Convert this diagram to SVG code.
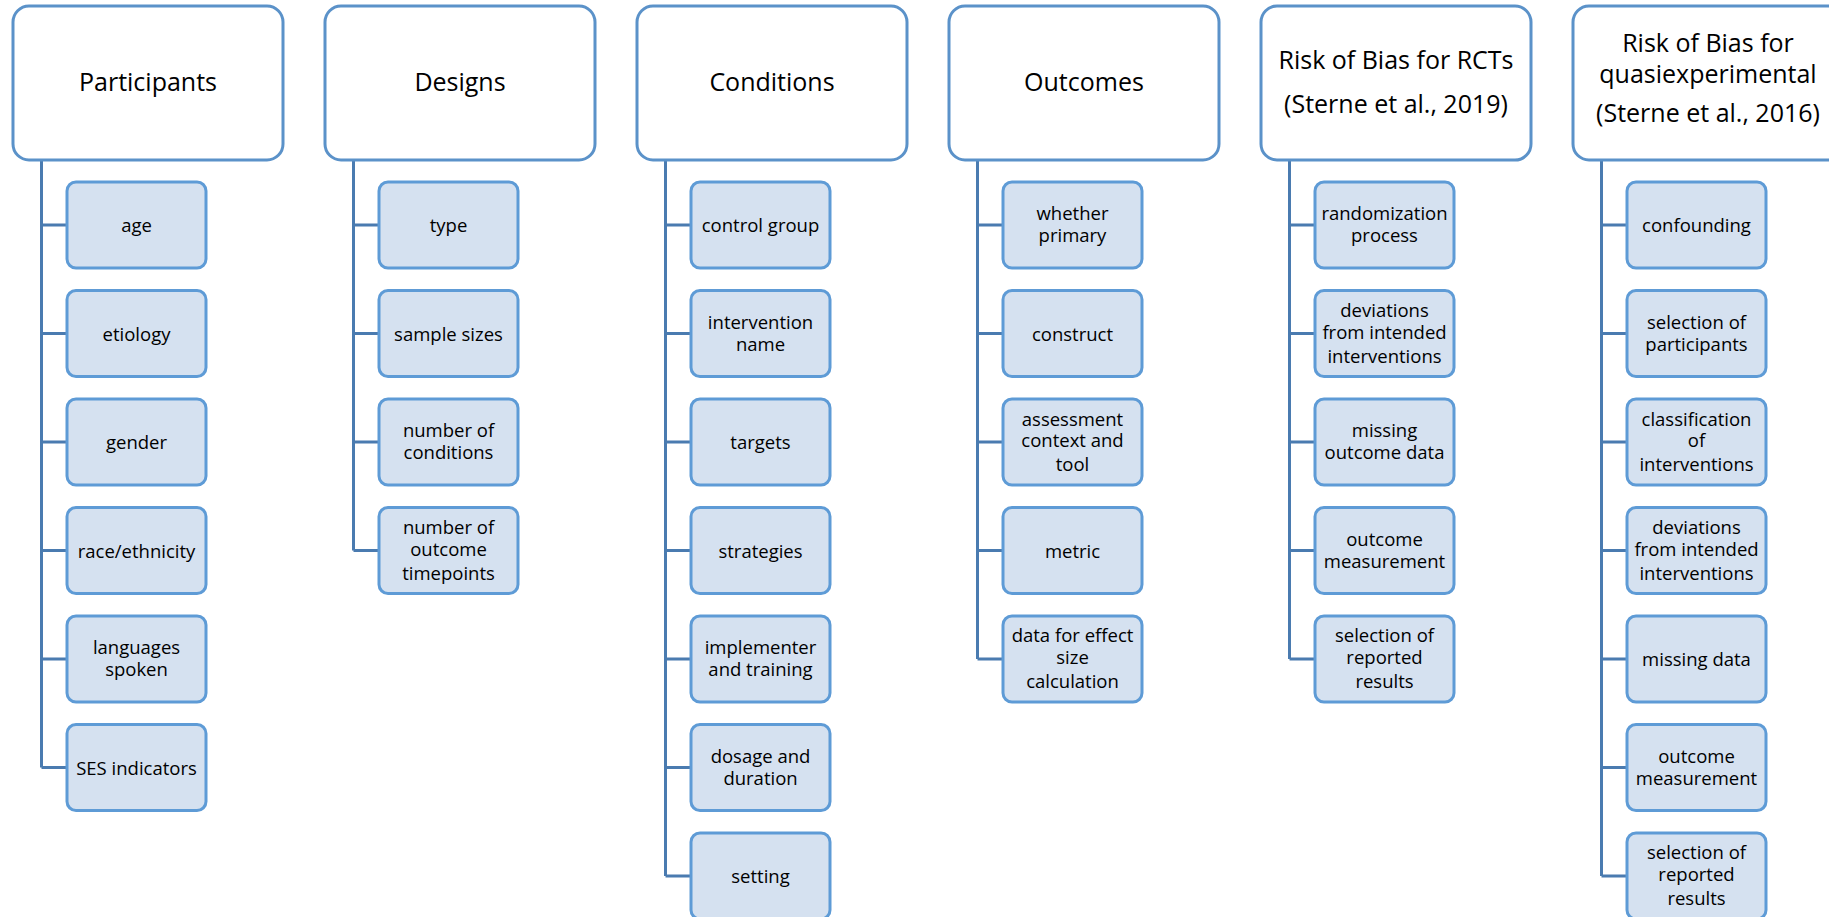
<svg xmlns="http://www.w3.org/2000/svg" width="1829" height="917" viewBox="0 0 1829 917">
<style>
.hdr{fill:#FFFFFF;stroke:#5B92C9;stroke-width:3}
.box{fill:#D5E1F0;stroke:#5E9BD6;stroke-width:3}
.ht{font-family:"Open Sans",sans-serif;font-size:25px;fill:#000;text-anchor:middle}
.bt{font-family:"Open Sans",sans-serif;font-size:18.5px;fill:#000;text-anchor:middle}
.con{fill:none;stroke:#4A7BB0;stroke-width:3}
</style>
<rect width="1829" height="917" fill="#FFFFFF"/>
<g id="connectors">
<path class="con" d="M41.5 160V767.5M41.5 225H67M41.5 333.5H67M41.5 442H67M41.5 550.5H67M41.5 659H67M41.5 767.5H67"/>
<path class="con" d="M353.5 160V550.5M353.5 225H379M353.5 333.5H379M353.5 442H379M353.5 550.5H379"/>
<path class="con" d="M665.5 160V876M665.5 225H691M665.5 333.5H691M665.5 442H691M665.5 550.5H691M665.5 659H691M665.5 767.5H691M665.5 876H691"/>
<path class="con" d="M977.5 160V659M977.5 225H1003M977.5 333.5H1003M977.5 442H1003M977.5 550.5H1003M977.5 659H1003"/>
<path class="con" d="M1289.5 160V659M1289.5 225H1315M1289.5 333.5H1315M1289.5 442H1315M1289.5 550.5H1315M1289.5 659H1315"/>
<path class="con" d="M1601.5 160V876M1601.5 225H1627M1601.5 333.5H1627M1601.5 442H1627M1601.5 550.5H1627M1601.5 659H1627M1601.5 767.5H1627M1601.5 876H1627"/>
</g>
<g id="participants"><rect class="hdr" x="13" y="6" width="270" height="154" rx="16"/><text class="ht" x="148" y="91">Participants</text></g>
<g id="designs"><rect class="hdr" x="325" y="6" width="270" height="154" rx="16"/><text class="ht" x="460" y="91">Designs</text></g>
<g id="conditions"><rect class="hdr" x="637" y="6" width="270" height="154" rx="16"/><text class="ht" x="772" y="91">Conditions</text></g>
<g id="outcomes"><rect class="hdr" x="949" y="6" width="270" height="154" rx="16"/><text class="ht" x="1084" y="91">Outcomes</text></g>
<g id="rob-rct"><rect class="hdr" x="1261" y="6" width="270" height="154" rx="16"/><text class="ht" x="1396" y="69">Risk of Bias for RCTs</text><text class="ht" x="1396" y="113">(Sterne et al., 2019)</text></g>
<g id="rob-quasi"><rect class="hdr" x="1573" y="6" width="270" height="154" rx="16"/><text class="ht" x="1708" y="52">Risk of Bias for</text><text class="ht" x="1708" y="83">quasiexperimental</text><text class="ht" x="1708" y="122">(Sterne et al., 2016)</text></g>

<g id="p-age"><rect class="box" x="67" y="182" width="139" height="86" rx="9"/><text class="bt" x="136.5" y="232">age</text></g>
<g id="p-etiology"><rect class="box" x="67" y="290.5" width="139" height="86" rx="9"/><text class="bt" x="136.5" y="340.5">etiology</text></g>
<g id="p-gender"><rect class="box" x="67" y="399" width="139" height="86" rx="9"/><text class="bt" x="136.5" y="449">gender</text></g>
<g id="p-race"><rect class="box" x="67" y="507.5" width="139" height="86" rx="9"/><text class="bt" x="136.5" y="557.5">race/ethnicity</text></g>
<g id="p-lang"><rect class="box" x="67" y="616" width="139" height="86" rx="9"/><text class="bt" x="136.5" y="654">languages</text><text class="bt" x="136.5" y="676">spoken</text></g>
<g id="p-ses"><rect class="box" x="67" y="724.5" width="139" height="86" rx="9"/><text class="bt" x="136.5" y="774.5">SES indicators</text></g>

<g id="d-type"><rect class="box" x="379" y="182" width="139" height="86" rx="9"/><text class="bt" x="448.5" y="232">type</text></g>
<g id="d-sample"><rect class="box" x="379" y="290.5" width="139" height="86" rx="9"/><text class="bt" x="448.5" y="340.5">sample sizes</text></g>
<g id="d-ncond"><rect class="box" x="379" y="399" width="139" height="86" rx="9"/><text class="bt" x="448.5" y="437">number of</text><text class="bt" x="448.5" y="459">conditions</text></g>
<g id="d-ntime"><rect class="box" x="379" y="507.5" width="139" height="86" rx="9"/><text class="bt" x="448.5" y="533.5">number of</text><text class="bt" x="448.5" y="555.5">outcome</text><text class="bt" x="448.5" y="579.5">timepoints</text></g>

<g id="c-control"><rect class="box" x="691" y="182" width="139" height="86" rx="9"/><text class="bt" x="760.5" y="232">control group</text></g>
<g id="c-name"><rect class="box" x="691" y="290.5" width="139" height="86" rx="9"/><text class="bt" x="760.5" y="328.5">intervention</text><text class="bt" x="760.5" y="350.5">name</text></g>
<g id="c-targets"><rect class="box" x="691" y="399" width="139" height="86" rx="9"/><text class="bt" x="760.5" y="449">targets</text></g>
<g id="c-strategies"><rect class="box" x="691" y="507.5" width="139" height="86" rx="9"/><text class="bt" x="760.5" y="557.5">strategies</text></g>
<g id="c-impl"><rect class="box" x="691" y="616" width="139" height="86" rx="9"/><text class="bt" x="760.5" y="654">implementer</text><text class="bt" x="760.5" y="676">and training</text></g>
<g id="c-dosage"><rect class="box" x="691" y="724.5" width="139" height="86" rx="9"/><text class="bt" x="760.5" y="762.5">dosage and</text><text class="bt" x="760.5" y="784.5">duration</text></g>
<g id="c-setting"><rect class="box" x="691" y="833" width="139" height="86" rx="9"/><text class="bt" x="760.5" y="883">setting</text></g>

<g id="o-primary"><rect class="box" x="1003" y="182" width="139" height="86" rx="9"/><text class="bt" x="1072.5" y="220">whether</text><text class="bt" x="1072.5" y="242">primary</text></g>
<g id="o-construct"><rect class="box" x="1003" y="290.5" width="139" height="86" rx="9"/><text class="bt" x="1072.5" y="340.5">construct</text></g>
<g id="o-assess"><rect class="box" x="1003" y="399" width="139" height="86" rx="9"/><text class="bt" x="1072.5" y="425.5">assessment</text><text class="bt" x="1072.5" y="447">context and</text><text class="bt" x="1072.5" y="470.5">tool</text></g>
<g id="o-metric"><rect class="box" x="1003" y="507.5" width="139" height="86" rx="9"/><text class="bt" x="1072.5" y="557.5">metric</text></g>
<g id="o-data"><rect class="box" x="1003" y="616" width="139" height="86" rx="9"/><text class="bt" x="1072.5" y="642">data for effect</text><text class="bt" x="1072.5" y="664">size</text><text class="bt" x="1072.5" y="688">calculation</text></g>

<g id="r-random"><rect class="box" x="1315" y="182" width="139" height="86" rx="9"/><text class="bt" x="1384.5" y="220">randomization</text><text class="bt" x="1384.5" y="242">process</text></g>
<g id="r-dev"><rect class="box" x="1315" y="290.5" width="139" height="86" rx="9"/><text class="bt" x="1384.5" y="316.5">deviations</text><text class="bt" x="1384.5" y="338.5">from intended</text><text class="bt" x="1384.5" y="362.5">interventions</text></g>
<g id="r-missing"><rect class="box" x="1315" y="399" width="139" height="86" rx="9"/><text class="bt" x="1384.5" y="437">missing</text><text class="bt" x="1384.5" y="459">outcome data</text></g>
<g id="r-meas"><rect class="box" x="1315" y="507.5" width="139" height="86" rx="9"/><text class="bt" x="1384.5" y="545.5">outcome</text><text class="bt" x="1384.5" y="567.5">measurement</text></g>
<g id="r-sel"><rect class="box" x="1315" y="616" width="139" height="86" rx="9"/><text class="bt" x="1384.5" y="642">selection of</text><text class="bt" x="1384.5" y="664">reported</text><text class="bt" x="1384.5" y="688">results</text></g>

<g id="q-conf"><rect class="box" x="1627" y="182" width="139" height="86" rx="9"/><text class="bt" x="1696.5" y="232">confounding</text></g>
<g id="q-selp"><rect class="box" x="1627" y="290.5" width="139" height="86" rx="9"/><text class="bt" x="1696.5" y="328.5">selection of</text><text class="bt" x="1696.5" y="350.5">participants</text></g>
<g id="q-class"><rect class="box" x="1627" y="399" width="139" height="86" rx="9"/><text class="bt" x="1696.5" y="425.5">classification</text><text class="bt" x="1696.5" y="447">of</text><text class="bt" x="1696.5" y="470.5">interventions</text></g>
<g id="q-dev"><rect class="box" x="1627" y="507.5" width="139" height="86" rx="9"/><text class="bt" x="1696.5" y="533.5">deviations</text><text class="bt" x="1696.5" y="555.5">from intended</text><text class="bt" x="1696.5" y="579.5">interventions</text></g>
<g id="q-missing"><rect class="box" x="1627" y="616" width="139" height="86" rx="9"/><text class="bt" x="1696.5" y="666">missing data</text></g>
<g id="q-meas"><rect class="box" x="1627" y="724.5" width="139" height="86" rx="9"/><text class="bt" x="1696.5" y="762.5">outcome</text><text class="bt" x="1696.5" y="784.5">measurement</text></g>
<g id="q-sel"><rect class="box" x="1627" y="833" width="139" height="86" rx="9"/><text class="bt" x="1696.5" y="859">selection of</text><text class="bt" x="1696.5" y="881">reported</text><text class="bt" x="1696.5" y="905">results</text></g>
</svg>
